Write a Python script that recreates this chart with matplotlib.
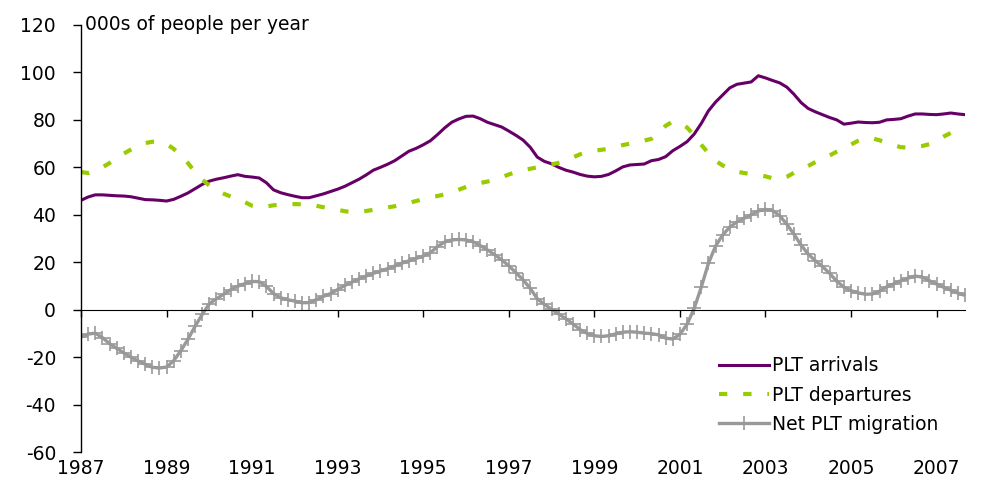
import numpy as np
import matplotlib.pyplot as plt

# bimonthly readings, Jan 1987 onwards (000s of people per year)
arrivals = [46.1, 47.5, 48.4, 48.4, 48.2, 48.0, 47.9, 47.6, 47.0, 46.4, 46.3, 46.1,
            45.8, 46.5, 47.8, 49.2, 51.0, 52.8, 54.2, 55.0, 55.6, 56.3, 56.9, 56.2,
            55.9, 55.5, 53.5, 50.5, 49.3, 48.5, 47.8, 47.2, 47.2, 48.0, 48.8, 49.8,
            50.8, 52.0, 53.5, 55.0, 56.8, 58.8, 60.0, 61.3, 62.8, 64.8, 66.8, 68.0,
            69.5, 71.2, 73.8, 76.6, 79.0, 80.4, 81.5, 81.6, 80.5, 79.0, 78.0, 77.0,
            75.3, 73.5, 71.5, 68.5, 64.3, 62.5, 61.5, 60.0, 58.8, 58.0, 57.0, 56.3,
            56.0, 56.2, 57.0, 58.5, 60.2, 61.0, 61.2, 61.4, 62.8, 63.3, 64.5, 67.0,
            68.8, 70.8, 74.0, 78.5, 83.8, 87.5, 90.5, 93.5, 95.0, 95.5, 96.0, 98.6,
            97.7, 96.6, 95.6, 93.8, 90.8, 87.3, 84.8, 83.4, 82.2, 81.0, 80.0, 78.2,
            78.6, 79.1, 78.9, 78.8, 79.0, 80.0, 80.2, 80.5, 81.6, 82.5, 82.5, 82.3,
            82.2, 82.5, 82.9, 82.5, 82.2]
departures = [58.0, 57.6, 58.5, 60.0, 61.8, 63.8, 65.8, 67.5, 69.0, 70.2, 70.8, 70.6,
              69.8, 67.8, 65.0, 61.8, 58.0, 54.8, 52.3, 50.4, 48.9, 47.7, 46.7, 45.3,
              43.8, 43.2, 43.5, 44.0, 44.3, 44.5, 44.5, 44.4, 44.2, 43.8, 43.2, 42.7,
              42.1, 41.5, 41.1, 41.2, 41.6, 42.1, 42.6, 43.1, 43.6, 44.2, 45.0, 45.8,
              46.6, 47.3, 47.9, 48.6, 49.5, 50.6, 51.7, 52.7, 53.4, 54.0, 54.7, 55.8,
              57.0, 58.0, 58.8, 59.4, 60.0, 60.6, 61.2, 61.9, 62.8, 64.2, 65.5, 66.4,
              67.0, 67.4, 67.8, 68.6, 69.4, 70.0, 70.6, 71.3, 72.0, 74.5, 77.5, 79.3,
              78.8, 76.8, 73.5, 69.5, 66.0, 62.8, 60.8, 59.3, 58.2, 57.6, 57.2, 56.8,
              56.2, 55.4, 54.9, 56.0, 57.7, 59.2, 60.6, 62.2, 63.6, 65.0, 66.6, 68.0,
              69.6, 71.2, 72.2, 72.2, 71.4, 70.4, 69.3, 68.5, 68.3, 68.6, 69.0, 69.8,
              71.3, 73.0, 74.5, 75.6, 76.5]
net = [-11.5, -10.3, -9.9, -11.8, -14.3, -16.3, -18.2, -20.0, -21.6, -23.0, -24.3, -24.6,
       -24.2, -21.5, -17.3, -12.5, -7.0, -2.0, 2.5, 4.6, 6.5, 8.4, 9.9, 11.0,
       11.9, 11.8, 9.8, 6.8, 5.0, 4.2, 3.6, 2.9, 3.0, 4.2, 5.6, 6.8,
       8.5, 10.2, 11.6, 13.0, 14.2, 15.3, 16.3, 17.3, 18.4, 19.6, 20.6, 21.6,
       22.6, 24.0, 26.6, 28.5, 29.4, 29.6, 29.4, 28.6, 27.0, 25.2, 23.2, 21.0,
       18.5, 15.6, 12.6, 9.0, 4.6, 2.2, 0.2, -1.8, -3.8, -6.0, -8.4, -10.0,
       -11.0, -11.3, -11.0, -10.2, -9.5, -9.3, -9.5, -9.9, -10.1, -10.6, -12.0, -12.4,
       -10.4, -6.2, 0.5, 9.5, 19.5, 26.8, 31.5, 34.8, 37.0, 38.5, 40.0, 41.6,
       42.3, 41.8, 39.6, 36.0, 31.8, 27.2, 23.4, 20.6, 18.2, 15.3, 12.0, 9.5,
       8.0, 7.1, 6.5, 6.6, 7.8, 9.6, 10.9, 12.2, 13.3, 14.2, 13.7, 12.2,
       10.8, 9.4, 8.2, 7.0, 6.0]
year_ticks = [1987, 1989, 1991, 1993, 1995, 1997, 1999, 2001, 2003, 2005, 2007]

t = 1987 + np.arange(len(arrivals)) / 6.0

plt.rcParams['font.family'] = 'DejaVu Sans'
plt.rcParams['axes.unicode_minus'] = False
fig = plt.figure(figsize=(9.94, 4.96), dpi=100)
ax = fig.add_axes([0.0815, 0.0887, 0.8894, 0.8609])

ax.plot(t, arrivals, color='#660066', lw=2.2, label='PLT arrivals')
ax.plot(t, departures, color='#99CC00', lw=3, dashes=(2, 3.8),
        dash_capstyle='butt', label='PLT departures')
ax.plot(t, net, color='#999999', lw=2.4, marker='+', markersize=9.5,
        markeredgewidth=1.2, label='Net PLT migration')

ax.set_xlim(1987, t[-1])
ax.set_ylim(-60, 120)
ax.set_yticks(np.arange(-60, 121, 20))

for s in ['top', 'right']:
    ax.spines[s].set_visible(False)
ax.spines['bottom'].set_position(('data', 0))
ax.spines['left'].set_linewidth(1)
ax.tick_params(axis='y', direction='out', length=6, width=1, pad=12, labelsize=13.5)
ax.set_xticks(year_ticks)
ax.tick_params(axis='x', direction='out', length=5, width=1, labelbottom=False)

sec = ax.secondary_xaxis(0.0)
sec.set_xticks(year_ticks)
sec.spines['bottom'].set_visible(False)
sec.tick_params(axis='x', length=0, pad=5, labelsize=13.5)

ax.text(1987.1, 120, '000s of people per year', fontsize=13.5, va='center', ha='left')

leg = ax.legend(loc='lower left', bbox_to_anchor=(0.713, 0.025), frameon=False,
                fontsize=13.5, handlelength=2.7, handletextpad=0.15,
                labelspacing=0.55, numpoints=1, borderaxespad=0)

fig.savefig('out.png', dpi=100)
